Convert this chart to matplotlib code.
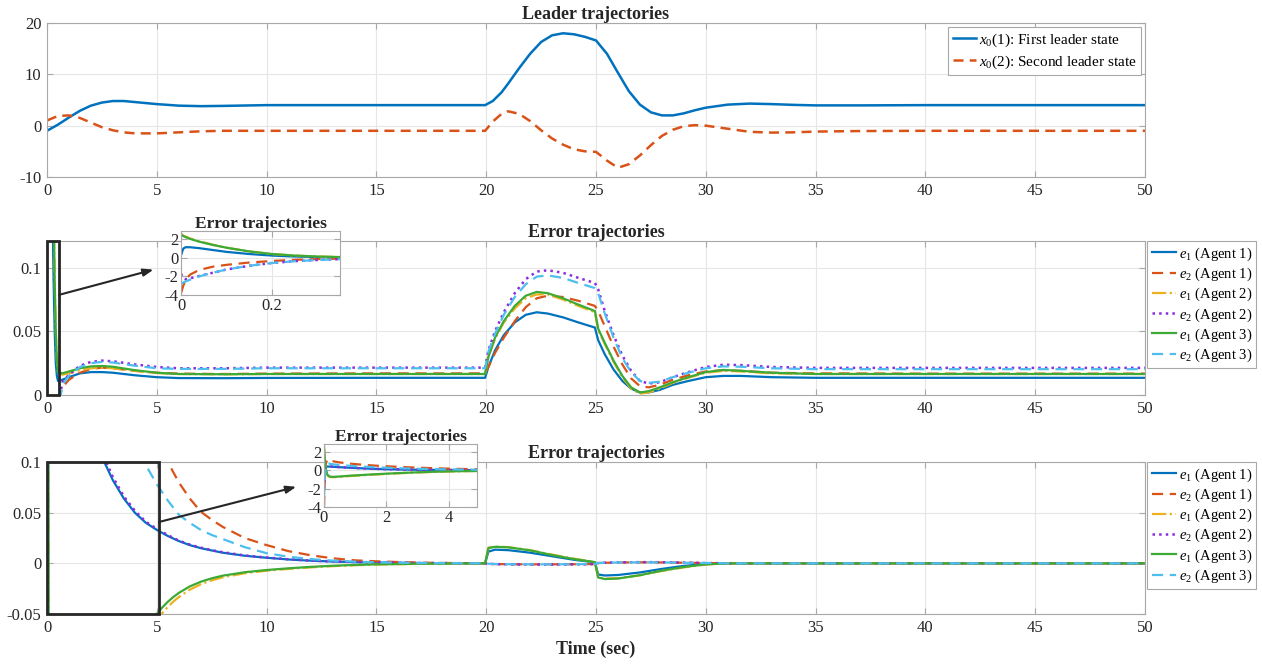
import matplotlib
matplotlib.use("Agg")
import matplotlib.pyplot as plt
from matplotlib.patches import Rectangle

plt.rcParams['font.family'] = ['Liberation Serif', 'DejaVu Serif']
plt.rcParams['mathtext.fontset'] = 'custom'
plt.rcParams['mathtext.rm'] = 'Liberation Serif'
plt.rcParams['mathtext.it'] = 'Liberation Serif:italic'
plt.rcParams['axes.unicode_minus'] = False

# ---- leader trajectories ----
T_LEAD = [0, 0.5, 1, 1.5, 2, 2.5, 3, 3.5, 4, 5, 6, 7, 8, 10, 15, 19.95,
          20.3, 20.7, 21, 21.5, 22, 22.5, 23, 23.5, 24, 24.5, 25, 25.5,
          26, 26.5, 27, 27.5, 28, 28.5, 29, 29.5, 30, 31, 32, 33, 34, 35,
          37, 40, 50]
X0_1 = [-1.0, 0.2, 1.6, 2.9, 3.9, 4.5, 4.8, 4.8, 4.6, 4.2, 3.9, 3.8, 3.85,
        4.0, 4.0, 4.0, 4.8, 6.5, 8.2, 11.2, 14.0, 16.3, 17.6, 18.0, 17.8,
        17.3, 16.6, 14.0, 10.3, 6.7, 4.1, 2.6, 2.0, 2.0, 2.4, 3.0, 3.5,
        4.1, 4.3, 4.2, 4.05, 3.95, 3.95, 4.0, 4.0]
X0_2 = [1.0, 1.9, 2.0, 1.5, 0.6, -0.3, -0.9, -1.3, -1.5, -1.5, -1.3, -1.1,
        -1.0, -1.0, -1.0, -1.0, 0.8, 2.3, 2.8, 2.3, 0.9, -0.9, -2.5, -3.7,
        -4.6, -5.0, -5.1, -6.8, -8.2, -7.5, -5.8, -3.8, -2.0, -0.8, -0.1,
        0.1, 0.0, -0.6, -1.2, -1.35, -1.3, -1.15, -1.05, -1.0, -1.0]
LEAD_LABELS = ['$x_0$(1): First leader state', '$x_0$(2): Second leader state']

# ---- error trajectories, middle panel ----
T_MID = [0, 0.005, 0.01, 0.02, 0.04, 0.07, 0.1, 0.15, 0.2, 0.25,
         0.3, 0.35, 0.4, 0.45, 0.5, 0.7, 1, 1.5, 2, 2.5,
         3, 4, 5, 6, 8, 10, 15, 19.95, 20.1, 20.4,
         20.8, 21.3, 21.8, 22.3, 22.8, 23.5, 24.2, 24.95, 25.1, 25.4,
         25.8, 26.2, 26.6, 27.0, 27.4, 27.9, 28.5, 29.2, 30, 30.8,
         31.6, 33, 35, 40, 50]
MID_E1_A1 = [0.3, 1.0, 1.15, 1.15, 1.05, 0.85, 0.65, 0.42, 0.25, 0.15,
             0.09, 0.05, 0.025, 0.015, 0.011, 0.012, 0.014, 0.017, 0.018, 0.018,
             0.0175, 0.0155, 0.014, 0.0133, 0.0132, 0.0134, 0.0135, 0.0135, 0.022, 0.035,
             0.047, 0.057, 0.063, 0.065, 0.064, 0.061, 0.057, 0.053, 0.043, 0.032,
             0.02, 0.011, 0.005, 0.002, 0.002, 0.004, 0.008, 0.011, 0.014, 0.015,
             0.015, 0.014, 0.0135, 0.0135, 0.0135]
MID_E2_A1 = [-3.8, -3.0, -2.4, -1.8, -1.3, -0.95, -0.75, -0.5, -0.33, -0.21,
             -0.13, -0.08, -0.045, -0.02, -0.005, 0.006, 0.012, 0.0175, 0.0205, 0.0215,
             0.021, 0.019, 0.0175, 0.0168, 0.0165, 0.0168, 0.017, 0.017, 0.022, 0.033,
             0.045, 0.058, 0.069, 0.076, 0.078, 0.077, 0.074, 0.070, 0.066, 0.054,
             0.038, 0.024, 0.013, 0.007, 0.006, 0.008, 0.012, 0.0155, 0.0185, 0.0195,
             0.019, 0.0175, 0.017, 0.0168, 0.0168]
MID_E1_A2 = [2.6, 2.4, 2.3, 2.1, 1.8, 1.42, 1.1, 0.7, 0.42, 0.25,
             0.15, 0.09, 0.05, 0.027, 0.017, 0.016, 0.017, 0.0195, 0.021, 0.0215,
             0.021, 0.019, 0.0172, 0.0165, 0.0163, 0.0165, 0.0165, 0.0165, 0.03, 0.044,
             0.057, 0.068, 0.076, 0.079, 0.079, 0.075, 0.07, 0.065, 0.051, 0.04,
             0.026, 0.014, 0.005, 0.001, 0.002, 0.005, 0.0095, 0.0135, 0.0175, 0.019,
             0.0185, 0.017, 0.0165, 0.0165, 0.0165]
MID_E2_A2 = [-1.7, -2.2, -2.3, -2.2, -1.95, -1.6, -1.25, -0.85, -0.55, -0.35,
             -0.22, -0.13, -0.07, -0.035, -0.01, 0.01, 0.016, 0.023, 0.026, 0.027,
             0.0265, 0.024, 0.022, 0.021, 0.021, 0.0215, 0.0215, 0.0215, 0.035, 0.05,
             0.065, 0.08, 0.091, 0.097, 0.098, 0.096, 0.092, 0.088, 0.083, 0.066,
             0.047, 0.031, 0.019, 0.011, 0.009, 0.01, 0.014, 0.018, 0.022, 0.0238,
             0.0235, 0.022, 0.0213, 0.0213, 0.0213]
MID_E1_A3 = [2.5, 2.35, 2.25, 2.05, 1.75, 1.4, 1.1, 0.7, 0.42, 0.25,
             0.15, 0.09, 0.05, 0.028, 0.018, 0.017, 0.0185, 0.021, 0.0225, 0.0228,
             0.0222, 0.0195, 0.0175, 0.0165, 0.0163, 0.0165, 0.0165, 0.0165, 0.03, 0.045,
             0.058, 0.07, 0.078, 0.081, 0.08, 0.076, 0.071, 0.066, 0.052, 0.041,
             0.027, 0.015, 0.006, 0.002, 0.003, 0.006, 0.01, 0.014, 0.018, 0.0197,
             0.019, 0.0175, 0.0165, 0.0165, 0.0165]
MID_E2_A3 = [-2.8, -2.65, -2.55, -2.35, -2.0, -1.6, -1.25, -0.85, -0.55, -0.36,
             -0.23, -0.14, -0.08, -0.04, -0.015, 0.008, 0.015, 0.022, 0.025, 0.026,
             0.0255, 0.023, 0.021, 0.0205, 0.0205, 0.021, 0.021, 0.021, 0.034, 0.048,
             0.063, 0.077, 0.087, 0.093, 0.094, 0.092, 0.088, 0.084, 0.08, 0.064,
             0.045, 0.029, 0.018, 0.011, 0.0095, 0.0105, 0.014, 0.0175, 0.021, 0.0225,
             0.0222, 0.021, 0.0203, 0.0203, 0.0203]

# ---- error trajectories, bottom panel ----
T_BOT = [0, 0.02, 0.05, 0.1, 0.15, 0.2, 0.3, 0.5, 0.8, 1.2,
         1.6, 2, 2.5, 3, 3.5, 4, 4.5, 5, 5.25, 5.5,
         5.75, 6, 6.5, 7, 7.5, 8, 9, 10, 11, 12,
         13, 14, 15, 17, 19.95, 20.1, 20.4, 21, 22, 23,
         24, 24.95, 25.1, 25.4, 26, 27, 28, 29, 30, 31,
         33, 40, 50]
BOT_E1_A1 = [0.1, 0.3, 0.4, 0.43, 0.43, 0.42, 0.4, 0.36, 0.3, 0.24,
             0.18, 0.14, 0.105, 0.082, 0.064, 0.05, 0.04, 0.033, 0.030, 0.027,
             0.0245, 0.022, 0.018, 0.015, 0.0127, 0.0105, 0.0075, 0.0055, 0.0038, 0.0026,
             0.0018, 0.0012, 0.0008, 0.0003, 0.0, 0.0115, 0.0135, 0.013, 0.0105, 0.007,
             0.0035, 0.001, -0.011, -0.012, -0.0115, -0.009, -0.0055, -0.0025, -0.0007, 0.0,
             0.0, 0.0, 0.0]
BOT_E2_A1 = [-4.0, -1.5, 0.6, 1.2, 1.15, 1.1, 1.0, 0.88, 0.76, 0.64,
             0.54, 0.46, 0.38, 0.31, 0.25, 0.2, 0.16, 0.125, 0.112, 0.1,
             0.09, 0.08, 0.064, 0.051, 0.043, 0.036, 0.025, 0.018, 0.012, 0.008,
             0.005, 0.003, 0.002, 0.0006, 0.0, -0.0004, -0.0007, -0.0009, -0.001, -0.001,
             -0.0009, -0.0007, 0.0003, 0.0005, 0.0008, 0.001, 0.0009, 0.0006, 0.0003, 0.0,
             0.0, 0.0, 0.0]
BOT_E1_A2 = [2.5, 1.3, 0.2, -0.45, -0.65, -0.72, -0.74, -0.7, -0.62, -0.53,
             -0.45, -0.38, -0.29, -0.22, -0.16, -0.11, -0.08, -0.056, -0.049, -0.043,
             -0.0378, -0.0333, -0.026, -0.0207, -0.0168, -0.0138, -0.0098, -0.0073, -0.0055, -0.004,
             -0.0028, -0.0019, -0.0012, -0.0005, 0.0, 0.0155, 0.0165, 0.016, 0.013, 0.0086,
             0.0046, 0.0013, -0.0135, -0.015, -0.0148, -0.0118, -0.0075, -0.004, -0.0012, 0.0,
             0.0, 0.0, 0.0]
BOT_E2_A2 = [-2.0, -0.5, 0.3, 0.45, 0.46, 0.45, 0.42, 0.37, 0.31, 0.245,
             0.185, 0.145, 0.11, 0.085, 0.066, 0.052, 0.041, 0.034, 0.031, 0.028,
             0.025, 0.0225, 0.0185, 0.0155, 0.013, 0.011, 0.0078, 0.0057, 0.004, 0.0027,
             0.0019, 0.0013, 0.0008, 0.0003, 0.0, -0.0005, -0.0008, -0.001, -0.0012, -0.0012,
             -0.001, -0.0008, 0.0003, 0.0006, 0.0009, 0.0012, 0.0011, 0.0007, 0.0003, 0.0,
             0.0, 0.0, 0.0]
BOT_E1_A3 = [2.6, 1.5, 0.3, -0.4, -0.6, -0.68, -0.7, -0.66, -0.58, -0.5,
             -0.42, -0.35, -0.27, -0.2, -0.14, -0.1, -0.07, -0.05, -0.0435, -0.038,
             -0.0333, -0.0292, -0.0228, -0.0182, -0.0148, -0.0122, -0.0088, -0.0066, -0.0049, -0.0035,
             -0.0024, -0.0016, -0.001, -0.0004, 0.0, 0.015, 0.0163, 0.0158, 0.0128, 0.0082,
             0.0042, 0.0012, -0.014, -0.0155, -0.015, -0.0117, -0.0072, -0.0036, -0.001, 0.0,
             0.0, 0.0, 0.0]
BOT_E2_A3 = [-3.0, -1.5, 0.3, 0.7, 0.75, 0.72, 0.67, 0.6, 0.52, 0.43,
             0.36, 0.3, 0.24, 0.19, 0.15, 0.12, 0.097, 0.078, 0.07, 0.062,
             0.055, 0.048, 0.04, 0.033, 0.028, 0.024, 0.016, 0.01, 0.0065, 0.0042,
             0.0027, 0.0017, 0.001, 0.0003, 0.0, -0.0004, -0.0007, -0.0009, -0.001, -0.001,
             -0.0009, -0.0007, 0.0003, 0.0005, 0.0008, 0.001, 0.0009, 0.0006, 0.0003, 0.0,
             0.0, 0.0, 0.0]

ERR_LABELS = ['$e_1$ (Agent 1)', '$e_2$ (Agent 1)', '$e_1$ (Agent 2)',
              '$e_2$ (Agent 2)', '$e_1$ (Agent 3)', '$e_2$ (Agent 3)']
ERR_COLORS = ['#0072BD', '#D95319', '#EDB120', '#8B2BE2', '#3DAA35', '#4DBEEE']
ERR_STYLES = [dict(ls='-'), dict(ls=(0, (5, 3))), dict(ls='-.'),
              dict(ls=':', lw=1.8), dict(ls='-'), dict(ls=(0, (5, 3)))]

MID_SERIES = [MID_E1_A1, MID_E2_A1, MID_E1_A2, MID_E2_A2, MID_E1_A3, MID_E2_A3]
BOT_SERIES = [BOT_E1_A1, BOT_E2_A1, BOT_E1_A2, BOT_E2_A2, BOT_E1_A3, BOT_E2_A3]

EDGE = '#A8A8A8'
TXT = '#262626'


def style(ax, fs=12):
    ax.grid(True, color='#E6E6E6', lw=0.8)
    ax.set_axisbelow(True)
    for s in ax.spines.values():
        s.set_color(EDGE)
        s.set_linewidth(0.8)
    ax.tick_params(direction='in', length=4, color=EDGE, labelcolor=TXT,
                   labelsize=fs, top=True, right=True, pad=4)


def plot_errors(ax, t, series):
    lines = []
    for y, c, st in zip(series, ERR_COLORS, ERR_STYLES):
        kw = dict(lw=1.6)
        kw.update(st)
        ln, = ax.plot(t, y, color=c, **kw)
        lines.append(ln)
    return lines


def err_legend(ax, lines):
    lg = ax.legend(lines, ERR_LABELS, loc='upper left', bbox_to_anchor=(1.002, 1.0),
                   fontsize=10.5, handlelength=1.7, handletextpad=0.15, labelspacing=0.2,
                   borderpad=0.3, borderaxespad=0, fancybox=False, framealpha=1,
                   edgecolor=EDGE)
    lg.get_frame().set_linewidth(0.8)
    return lg


fig = plt.figure(figsize=(12.62, 6.66), dpi=100)
W, H = 1262, 666


def px_axes(x0, y0, x1, y1):
    return fig.add_axes([x0 / W, 1 - y1 / H, (x1 - x0) / W, (y1 - y0) / H])


# top: leader
ax1 = px_axes(47, 23, 1145, 177)
ax1.plot(T_LEAD, X0_1, color='#0072BD', lw=1.8, label=LEAD_LABELS[0])
ax1.plot(T_LEAD, X0_2, color='#D95319', lw=1.8, ls=(0, (4, 2.5)), label=LEAD_LABELS[1])
ax1.set_xlim(0, 50)
ax1.set_ylim(-10, 20)
ax1.set_xticks(range(0, 51, 5))
ax1.set_yticks([-10, 0, 10, 20])
style(ax1)
ax1.set_title('Leader trajectories', fontsize=13, fontweight='bold', color=TXT, pad=3)
leg = ax1.legend(loc='upper right', fontsize=11, handlelength=1.5, handletextpad=0.2,
                 labelspacing=0.3, borderpad=0.3, borderaxespad=0.25,
                 fancybox=False, framealpha=1, edgecolor=EDGE)
leg.get_frame().set_linewidth(0.8)

# middle: error trajectories
ax2 = px_axes(47, 241, 1145, 395)
lines2 = plot_errors(ax2, T_MID, MID_SERIES)
ax2.set_xlim(0, 50)
ax2.set_ylim(0, 0.121)
ax2.set_xticks(range(0, 51, 5))
ax2.set_yticks([0, 0.05, 0.1])
ax2.set_yticklabels(['0', '0.05', '0.1'])
style(ax2)
ax2.set_title('Error trajectories', fontsize=13, fontweight='bold', color=TXT, pad=3)
err_legend(ax2, lines2)
ax2.add_patch(Rectangle((0, 0), 0.55, 0.121, fill=False, ec=TXT, lw=2,
                        clip_on=False, zorder=6))
ax2.annotate('', xy=(4.85, 0.0985), xytext=(0.55, 0.0787),
             arrowprops=dict(arrowstyle='-|>,head_length=0.6,head_width=0.22',
                             color=TXT, lw=1.5, shrinkA=0, shrinkB=0), zorder=7)

# middle inset
ins2 = px_axes(181, 231, 340, 295)
plot_errors(ins2, T_MID, MID_SERIES)
ins2.set_xlim(0, 0.35)
ins2.set_ylim(-4, 2.9)
ins2.set_xticks([0, 0.2])
ins2.set_xticklabels(['0', '0.2'])
ins2.set_yticks([-4, -2, 0, 2])
style(ins2)
ins2.tick_params(pad=2)
ins2.set_title('Error trajectories', fontsize=12.5, fontweight='bold', color=TXT, pad=2)

# bottom: error trajectories
ax3 = px_axes(47, 462, 1145, 614)
lines3 = plot_errors(ax3, T_BOT, BOT_SERIES)
ax3.set_xlim(0, 50)
ax3.set_ylim(-0.05, 0.1)
ax3.set_xticks(range(0, 51, 5))
ax3.set_yticks([-0.05, 0, 0.05, 0.1])
ax3.set_yticklabels(['-0.05', '0', '0.05', '0.1'])
style(ax3)
ax3.set_title('Error trajectories', fontsize=13, fontweight='bold', color=TXT, pad=3)
ax3.set_xlabel('Time (sec)', fontsize=13, fontweight='bold', color=TXT, labelpad=4)
err_legend(ax3, lines3)
ax3.add_patch(Rectangle((0, -0.05), 5.1, 0.15, fill=False, ec=TXT, lw=2,
                        clip_on=False, zorder=6))
ax3.annotate('', xy=(11.35, 0.0755), xytext=(5.1, 0.0408),
             arrowprops=dict(arrowstyle='-|>,head_length=0.6,head_width=0.22',
                             color=TXT, lw=1.5, shrinkA=0, shrinkB=0), zorder=7)

# bottom inset
ins3 = px_axes(324, 444, 477, 507)
plot_errors(ins3, T_BOT, BOT_SERIES)
ins3.set_xlim(0, 4.9)
ins3.set_ylim(-4, 2.9)
ins3.set_xticks([0, 2, 4])
ins3.set_yticks([-4, -2, 0, 2])
style(ins3)
ins3.tick_params(pad=2)
ins3.set_title('Error trajectories', fontsize=12.5, fontweight='bold', color=TXT, pad=2)

fig.savefig('out.png', dpi=100)
